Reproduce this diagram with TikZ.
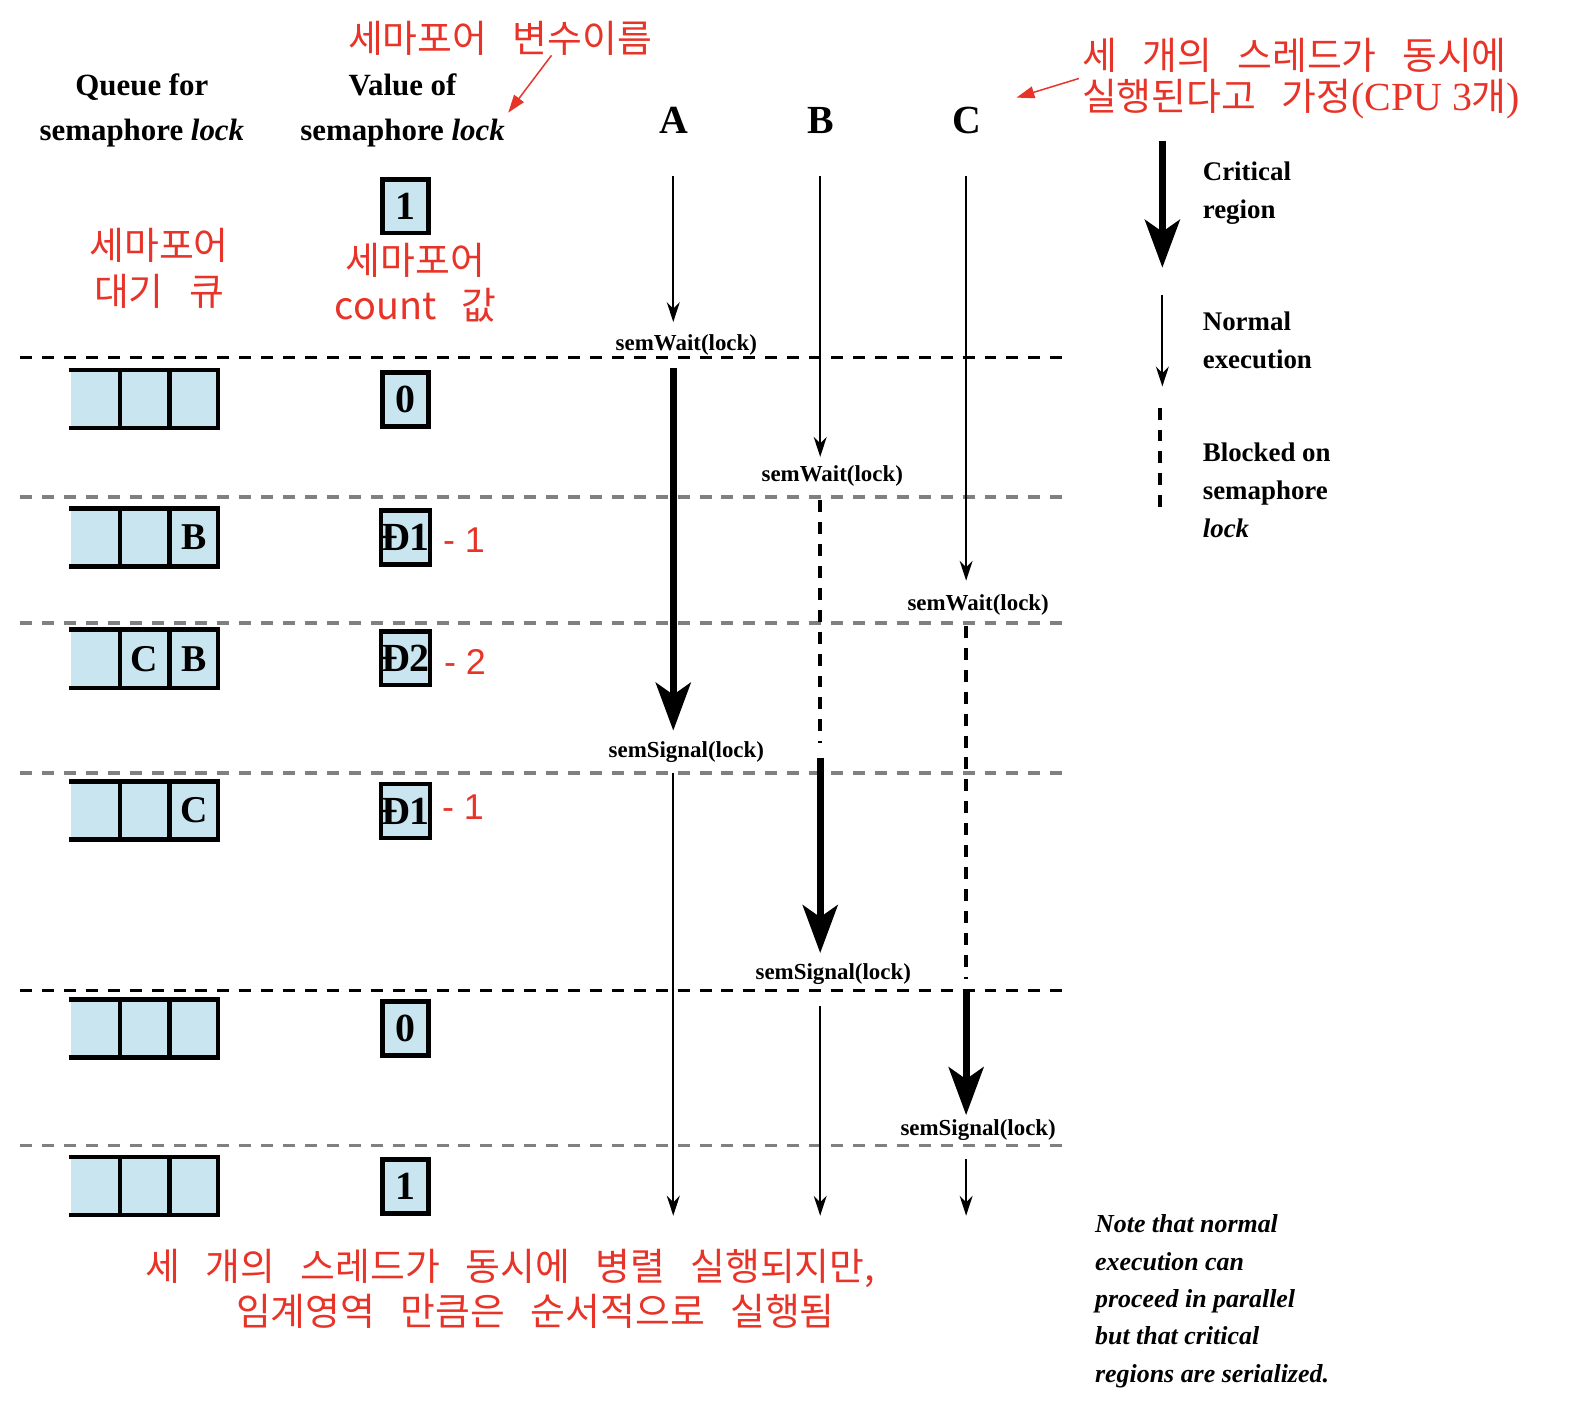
\documentclass[tikz,border=0pt]{standalone}
\usepackage{fontspec}
\setmainfont{Liberation Serif}
\newfontfamily\krfont[WordSpace=3]{Noto Sans CJK KR}
\newfontfamily\mysans{Liberation Sans}
\usetikzlibrary{arrows.meta,calc}
\definecolor{qblue}{RGB}{201,229,239}
\definecolor{kred}{RGB}{232,52,40}
\definecolor{dgrey}{RGB}{128,128,128}
\newcommand\myqueue[4]{%
  \node[qcell] (#1a) at (94.5,#2) {};
  \node[qcell] (#1b) at (143.5,#2) {#3};
  \node[qcell] (#1c) at (192.5,#2) {#4};
  \draw[qline] (#1a.north west) -- (#1c.north east) -- (#1c.south east) -- (#1a.south west);
  \draw[qline] (#1b.north west) -- (#1b.south west) (#1c.north west) -- (#1c.south west);
}
\begin{document}
\begin{tikzpicture}[x=1.0064bp,y=-1.0064bp,
  head/.style={font=\fontsize{31}{45}\selectfont\bfseries, align=center},
  thr/.style={font=\fontsize{40}{40}\selectfont\bfseries},
  call/.style={font=\fontsize{23}{26}\selectfont\bfseries, inner sep=1pt},
  legtxt/.style={font=\fontsize{27}{38}\selectfont\bfseries, align=left, anchor=west, inner sep=0},
  notetxt/.style={font=\fontsize{26}{37.4}\selectfont\bfseries\itshape, align=left, anchor=west, inner sep=0},
  krtxt/.style={text=kred, font=\krfont\fontsize{38}{46}\selectfont, align=center, inner sep=0},
  minus/.style={text=kred, font=\mysans\fontsize{36}{40}\selectfont, inner sep=0},
  valbox/.style={draw, line width=4.5pt, fill=qblue, minimum width=46pt, minimum height=54pt, inner sep=0, font=\fontsize{40}{40}\selectfont\bfseries},
  qcell/.style={fill=qblue, minimum width=48.5pt, minimum height=58pt, inner sep=0, font=\fontsize{38}{38}\selectfont\bfseries},
  qline/.style={line width=4.5pt, line join=miter, line cap=rect},
  normal/.style={line width=1.8pt, -{Stealth[length=20pt, width=13pt]}},
  crit/.style={line width=7pt, -{Stealth[length=48pt, width=35pt, inset=12pt]}},
  blocked/.style={line width=4pt, dash pattern=on 12pt off 10pt},
  sepblack/.style={line width=2.8pt, dash pattern=on 12pt off 10pt},
  sepgrey/.style={line width=3.5pt, dgrey, dash pattern=on 12pt off 10pt},
  redarrow/.style={kred, line width=1.5pt, -{Triangle[length=18pt, width=12pt]}}
]
\useasboundingbox (0,0) rectangle (1568,1417);

% separator lines
\draw[sepblack] (20,355) -- (1065,355);
\draw[sepgrey]  (20,494) -- (1065,494);
\draw[sepgrey]  (20,619) -- (1065,619);
\draw[sepgrey]  (20,768) -- (1065,768);
\draw[sepblack] (20,984) -- (1065,984);
\draw[sepgrey]  (20,1138) -- (1065,1138);

% headers
\node[head] (hq) at (141,110) {Queue for\\semaphore \textit{lock}};
\node[head] (hv) at (400,110) {Value of\\semaphore \textit{lock}};
\node[thr] (hA) at (670,120) {A};
\node[thr] (hB) at (816,120) {B};
\node[thr] (hC) at (961,120) {C};

% value boxes
\node[valbox] (v0) at (403,205) {1};
\node[valbox] (v1) at (403,397) {0};
\node[valbox] (v2) at (403,534) {Đ1};
\node[valbox] (v3) at (403,654) {Đ2};
\node[valbox] (v4) at (403,806) {Đ1};
\node[valbox] (v5) at (403,1022) {0};
\node[valbox] (v6) at (403,1179) {1};
\node[minus] (m2) at (461,537) {- 1};
\node[minus] (m3) at (462,658) {- 2};
\node[minus] (m4) at (460,802) {- 1};

% queues
\myqueue{q1}{396.5}{}{}
\myqueue{q2}{534}{}{B}
\myqueue{q3}{654.5}{C}{B}
\myqueue{q4}{805.5}{}{C}
\myqueue{q5}{1022}{}{}
\myqueue{q6}{1178.5}{}{}

% calls
\node[call] (swA) at (682,343) {semWait(lock)};
\node[call] (swB) at (827,473) {semWait(lock)};
\node[call] (swC) at (972,601) {semWait(lock)};
\node[call] (ssA) at (682,747) {semSignal(lock)};
\node[call] (ssB) at (828,968) {semSignal(lock)};
\node[call] (ssC) at (972,1123) {semSignal(lock)};

% thread coordinates
\coordinate (A0) at (669,175); \coordinate (A1) at (669,320);
\coordinate (A2) at (669,366); \coordinate (A3) at (669,726);
\coordinate (A4) at (669,768); \coordinate (A5) at (669,1208);
\coordinate (B0) at (815,175); \coordinate (B1) at (815,454);
\coordinate (B2) at (815,497); \coordinate (B3) at (815,738);
\coordinate (B4) at (815,753); \coordinate (B5) at (815,947);
\coordinate (B6) at (815,1000); \coordinate (B7) at (815,1208);
\coordinate (C0) at (960,175); \coordinate (C1) at (960,577);
\coordinate (C2) at (960,622); \coordinate (C3) at (960,973);
\coordinate (C4) at (960,984); \coordinate (C5) at (960,1108);
\coordinate (C6) at (960,1152); \coordinate (C7) at (960,1208);

\draw[normal] (A0) -- (A1);
\draw[crit] (A2) -- (A3);
\draw[normal] (A4) -- (A5);
\draw[normal] (B0) -- (B1);
\draw[blocked] (B2) -- (B3);
\draw[crit] (B4) -- (B5);
\draw[normal] (B6) -- (B7);
\draw[normal] (C0) -- (C1);
\draw[blocked] (C2) -- (C3);
\draw[crit] (C4) -- (C5);
\draw[normal] (C6) -- (C7);

% legend
\coordinate (L0) at (1155,140); \coordinate (L1) at (1155,266);
\coordinate (L2) at (1155,293); \coordinate (L3) at (1155,384);
\coordinate (L4) at (1153,405); \coordinate (L5) at (1153,512);
\draw[crit] (L0) -- (L1);
\draw[normal] (L2) -- (L3);
\draw[blocked] (L4) -- (L5);
\node[legtxt] (lt1) at (1195,192) {Critical\\region};
\node[legtxt] (lt2) at (1195,338) {Normal\\execution};
\node[legtxt] (lt3) at (1195,487) {Blocked on\\semaphore\\\textit{lock}};

% note
\node[notetxt] (note) at (1088,1293) {Note that normal\\execution can\\proceed in parallel\\but that critical\\regions are serialized.};

% red annotations
\node[krtxt] (k1) at (497,38) {세마포어 변수이름};
\node[krtxt] (k2) at (158,267) {세마포어\\대기 큐};
\node[krtxt] (k3) at (413,281) {세마포어\\count 값};
\node[krtxt, anchor=west] (k4) at (1075,55) {세 개의 스레드가 동시에};
\node[krtxt, anchor=west] (k5) at (1075,98) {실행된다고 가정{\rmfamily\fontsize{40}{40}\selectfont(CPU 3}개{\rmfamily\fontsize{40}{40}\selectfont)}};
\node[krtxt] (k6) at (507,1260) {세 개의 스레드가 동시에 병렬 실행되지만,};
\node[krtxt] (k7) at (532,1303) {임계영역 만큼은 순서적으로 실행됨};

\coordinate (r1s) at (548,55); \coordinate (r1e) at (505,112);
\coordinate (r2s) at (1072,78); \coordinate (r2e) at (1010,97);
\draw[redarrow] (r1s) -- (r1e);
\draw[redarrow] (r2s) -- (r2e);
\end{tikzpicture}
\end{document}
